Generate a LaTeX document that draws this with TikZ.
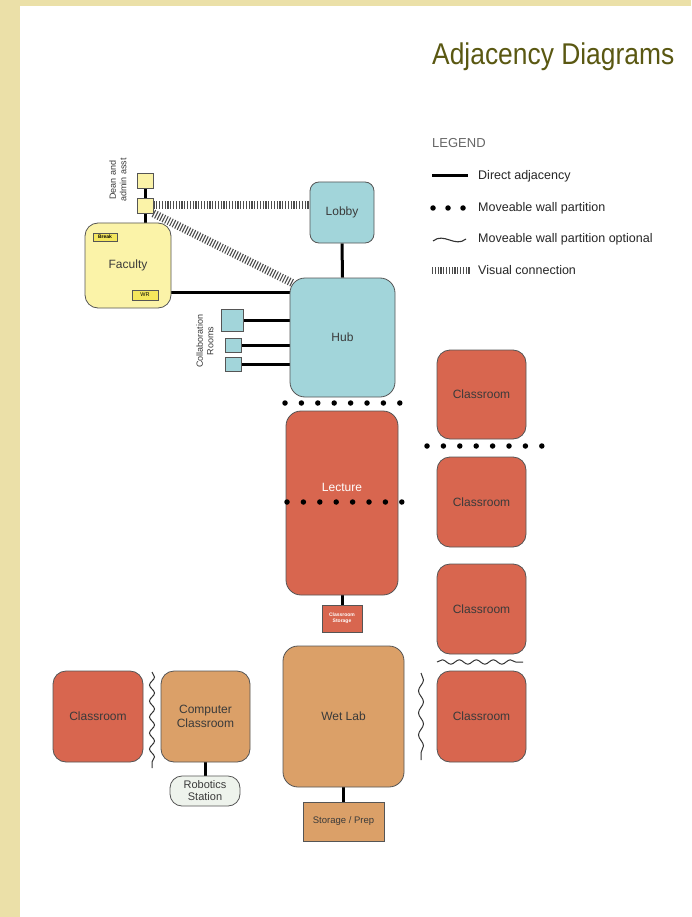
\documentclass[tikz,border=0pt]{standalone}
\usepackage{fontspec}
\setmainfont{Liberation Sans}
\usepackage{graphicx}
\usetikzlibrary{decorations.pathmorphing,backgrounds}
\definecolor{frame}{HTML}{EBE0A8}
\definecolor{titlecol}{HTML}{5A5812}
\definecolor{outl}{HTML}{555555}
\definecolor{yel}{HTML}{FBF3A8}
\definecolor{yelbox}{HTML}{F4E65C}
\definecolor{teal}{HTML}{A2D5DA}
\definecolor{redc}{HTML}{D8664F}
\definecolor{tanc}{HTML}{DBA068}
\definecolor{robo}{HTML}{EEF3EC}
\definecolor{txt}{HTML}{3A3A3A}
\tikzset{
  room/.style={draw=outl, line width=0.8pt, rounded corners=13pt, inner sep=0pt, align=center, text=txt, font=\fontsize{12}{14}\selectfont},
  sq/.style={draw=outl, line width=0.8pt, inner sep=0pt},
  adj/.style={line width=3pt, draw=black},
  hatch/.style={line width=8pt, draw=black!70, dash pattern=on 1.1pt off 1.7pt},
  partition/.style={line width=5.5pt, draw=black, line cap=round, dash pattern=on 0pt off 16.4pt},
  wavy/.style={draw=black!80, line width=1pt, decorate, decoration={snake, amplitude=2.3pt, segment length=15pt}},
  legtext/.style={anchor=west, inner sep=0, text=black!85, font=\fontsize{12.5}{14}\selectfont},
}
\begin{document}
\begin{tikzpicture}[x=1pt,y=-1pt]
\useasboundingbox (0,0) rectangle (691,917);
\begin{scope}[on background layer]
\fill[frame] (0,0) rectangle (691,917);
\fill[white] (20,6) rectangle (691,917);
\end{scope}

% title
\node[anchor=west, text=titlecol, inner sep=0] (title) at (432,57) {\scalebox{0.88}[1]{\fontsize{30}{34}\selectfont Adjacency Diagrams}};

% legend
\node[anchor=west, inner sep=0, text=black!60, font=\fontsize{13}{15}\selectfont] (leg) at (432,143) {LEGEND};
\coordinate (l1a) at (432,176); \coordinate (l1b) at (468,176);
\draw[adj] (l1a) -- (l1b);
\node[legtext] (t1) at (478,176) {Direct adjacency};
\coordinate (l2a) at (433,208); \coordinate (l2b) at (465,208);
\draw[partition, dash pattern=on 0pt off 15pt] (l2a) -- (l2b);
\node[legtext] (t2) at (478,208) {Moveable wall partition};
\coordinate (l3a) at (433,241); \coordinate (l3b) at (466,239);
\draw[black!80, line width=1.1pt] (l3a) .. controls (444,232) and (455,248) .. (l3b);
\node[legtext] (t3) at (478,239) {Moveable wall partition optional};
\coordinate (l4a) at (432,270); \coordinate (l4b) at (470,270);
\draw[hatch, line width=7pt] (l4a) -- (l4b);
\node[legtext] (t4) at (478,270) {Visual connection};

% dean squares
\node[sq, fill=yel, minimum width=16pt, minimum height=15pt] (deanA) at (145,180.5) {};
\node[sq, fill=yel, minimum width=16pt, minimum height=15pt] (deanB) at (145,205.5) {};
\node[rotate=90, align=center, inner sep=0, text=txt, font=\fontsize{9}{10.5}\selectfont] (deanlbl) at (118,180) {Dean and\\admin asst};

% faculty
\node[room, fill=yel, minimum width=86pt, minimum height=85pt] (faculty) at (128,265.5) {Faculty};
\node[sq, fill=yelbox, minimum width=24pt, minimum height=8pt, font=\fontsize{5}{6}\selectfont\bfseries] (break) at (105,237) {Break};
\node[sq, fill=yelbox, minimum width=26pt, minimum height=10pt, font=\fontsize{5.5}{6}\selectfont] (wr) at (145,295) {WR};

% lobby & hub
\node[room, fill=teal, minimum width=64pt, minimum height=61pt, rounded corners=9pt] (lobby) at (342,212.5) {Lobby};
\node[room, fill=teal, minimum width=105pt, minimum height=119pt, rounded corners=15pt] (hub) at (342.5,337.5) {Hub};

% collaboration rooms
\node[sq, fill=teal, minimum width=22pt, minimum height=22pt] (col1) at (232,320) {};
\node[sq, fill=teal, minimum width=16pt, minimum height=14pt] (col2) at (233,345) {};
\node[sq, fill=teal, minimum width=16pt, minimum height=14pt] (col3) at (233,364) {};
\node[rotate=90, align=center, inner sep=0, text=txt, font=\fontsize{9}{10.5}\selectfont] (collbl) at (205,341) {Collaboration\\Rooms};

% lecture
\node[room, fill=redc, minimum width=112pt, minimum height=184pt, rounded corners=15pt, text=white] (lecture) at (342,503) {};
\node[text=white, inner sep=0, font=\fontsize{12}{14}\selectfont] (lectlbl) at (342,487) {Lecture};
\node[sq, fill=redc, minimum width=40pt, minimum height=27pt, text=white, align=center, font=\fontsize{5}{6}\selectfont\bfseries] (cstor) at (342,618.5) {Classroom\\Storage};

% wet lab
\node[room, fill=tanc, minimum width=121pt, minimum height=141pt, rounded corners=15pt] (wetlab) at (343.5,716.5) {Wet Lab};
\node[sq, fill=tanc, minimum width=81pt, minimum height=39pt, text=txt, font=\fontsize{9.5}{11}\selectfont] (prep) at (343.5,821.5) {Storage / Prep};

% right classrooms
\node[room, fill=redc, minimum width=89pt, minimum height=89pt] (c1) at (481.5,394.5) {Classroom};
\node[room, fill=redc, minimum width=89pt, minimum height=90pt] (c2) at (481.5,502) {Classroom};
\node[room, fill=redc, minimum width=89pt, minimum height=90pt] (c3) at (481.5,609) {Classroom};
\node[room, fill=redc, minimum width=89pt, minimum height=91pt] (c4) at (481.5,716.5) {Classroom};

% left classrooms
\node[room, fill=redc, minimum width=90pt, minimum height=91pt] (cl) at (98,716.5) {Classroom};
\node[room, fill=tanc, minimum width=89pt, minimum height=91pt] (comp) at (205.5,716.5) {Computer\\Classroom};
\node[room, fill=robo, minimum width=70pt, minimum height=30pt, rounded corners=12pt, font=\fontsize{11}{12}\selectfont] (robot) at (205,791) {Robotics\\Station};

% connectors (behind nodes)
\begin{scope}[on background layer]
\draw[adj] (deanA.south) -- (deanB.north);
\draw[adj] (deanB.south) -- (deanB.south |- faculty.north);
\coordinate (facrow) at (0,292);
\draw[adj] (faculty.east |- facrow) -- (hub.west |- facrow);
\draw[adj] (lobby.south) -- (hub.north);
\draw[adj] (col1.east) -- (col1.east -| hub.west);
\draw[adj] (col2.east) -- (col2.east -| hub.west);
\draw[adj] (col3.east) -- (col3.east -| hub.west);
\draw[adj] (lecture.south) -- (cstor.north);
\draw[adj] (wetlab.south) -- (prep.north);
\draw[adj] (comp.south) -- (comp.south |- robot.north);
\draw[hatch] (deanB.east) -- (deanB.east -| lobby.west);
\draw[hatch] (deanB.south east) -- ([shift={(4,6)}]hub.north west);
\end{scope}

% partitions
\coordinate (p1a) at (285,403); \coordinate (p1b) at (401,403);
\draw[partition] (p1a) -- (p1b);
\coordinate (p2a) at (287,502); \coordinate (p2b) at (402,502);
\draw[partition] (p2a) -- (p2b);
\coordinate (p3a) at (427,446); \coordinate (p3b) at (543,446);
\draw[partition] (p3a) -- (p3b);

% optional partitions (waves)
\coordinate (w1a) at (437,662); \coordinate (w1b) at (523,662);
\draw[wavy, decoration={snake, amplitude=2.2pt, segment length=17pt}] (w1a) -- (w1b);
\coordinate (w2a) at (152,672); \coordinate (w2b) at (152,768);
\draw[wavy, decoration={snake, amplitude=2.5pt, segment length=16pt}] (w2a) -- (w2b);
\coordinate (w3a) at (421,673); \coordinate (w3b) at (421,760);
\draw[wavy, decoration={snake, amplitude=2.5pt, segment length=22pt}] (w3a) -- (w3b);
\end{tikzpicture}
\end{document}
